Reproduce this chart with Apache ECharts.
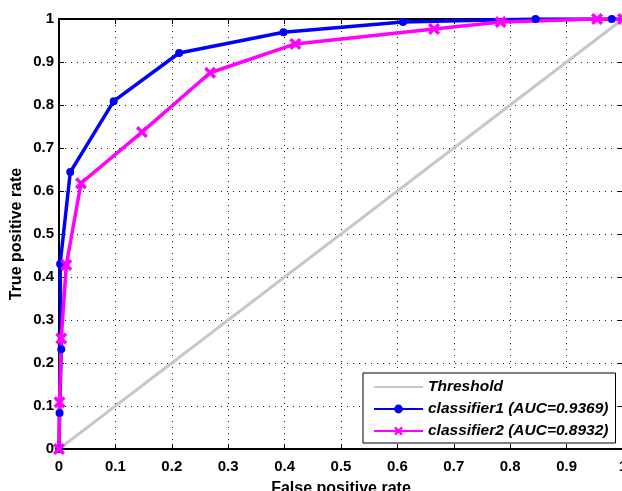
<!DOCTYPE html>
<html>
<head>
<meta charset="utf-8">
<script src="https://cdn.jsdelivr.net/npm/echarts@6/dist/echarts.min.js"></script>
<style>
  html, body { margin: 0; padding: 0; overflow: hidden; background: #fff; }
  #chart { width: 632px; height: 491px; }
</style>
</head>
<body>
<div id="chart"></div>
<script>
// ROC curves for two classifiers plus the chance diagonal
const thresholdX = [0, 1];
const thresholdY = [0, 1];

const fpr1 = [0, 0.001, 0.004, 0.002, 0.020, 0.097, 0.213, 0.398, 0.610, 0.845, 0.980, 1];
const tpr1 = [0, 0.084, 0.232, 0.430, 0.644, 0.809, 0.921, 0.969, 0.993, 1.000, 1.000, 1];

const fpr2 = [0, 0.001, 0.004, 0.013, 0.039, 0.147, 0.268, 0.419, 0.665, 0.783, 0.954, 1];
const tpr2 = [0, 0.109, 0.257, 0.428, 0.618, 0.737, 0.875, 0.942, 0.977, 0.993, 1.000, 1];

const tickLabels = ['0', '0.1', '0.2', '0.3', '0.4', '0.5', '0.6', '0.7', '0.8', '0.9', '1'];

const seriesNames = ['Threshold', 'classifier1 (AUC=0.9369)', 'classifier2 (AUC=0.8932)'];

const pairs = (xs, ys) => xs.map((x, i) => [x, ys[i]]);

const FONT = '"Liberation Sans", Arial, sans-serif';
const crossPath = 'path://M0,2 L2,0 L5,3 L8,0 L10,2 L7,5 L10,8 L8,10 L5,7 L2,10 L0,8 L3,5 Z';

const labelFmt = v => tickLabels[Math.round(v * 10)];

const titleText = { color: '#000', fontFamily: FONT, fontWeight: 'bold', fontSize: 16 };

const baseAxis = {
  type: 'value', min: 0, max: 1, interval: 0.1,
  axisLine: { show: true, onZero: false, lineStyle: { color: '#000', width: 2 } },
  axisTick: { show: true, inside: true, length: 5, lineStyle: { color: '#000', width: 1 } },
  splitLine: { show: true, lineStyle: { color: '#222', width: 1, type: [1, 5] } },
  axisLabel: { color: '#000', fontFamily: FONT, fontWeight: 'bold', fontSize: 15, formatter: labelFmt }
};

const chart = echarts.init(document.getElementById('chart'), null, { renderer: 'canvas' });
chart.setOption({
  animation: false,
  backgroundColor: '#fff',
  grid: { left: 59, top: 19, right: 9, bottom: 42, containLabel: false, outerBoundsMode: 'none' },
  xAxis: [
    Object.assign({}, baseAxis, {
      position: 'bottom',
      name: 'False positive rate', nameLocation: 'middle', nameGap: 32,
      nameTextStyle: titleText,
      axisLabel: Object.assign({}, baseAxis.axisLabel, { margin: 10 })
    }),
    Object.assign({}, baseAxis, {
      position: 'top', splitLine: { show: false }, axisLabel: { show: false }
    })
  ],
  yAxis: [
    Object.assign({}, baseAxis, {
      position: 'left',
      name: 'True positive rate', nameLocation: 'middle', nameGap: 34,
      nameMoveOverlap: false,
      nameTextStyle: titleText,
      axisLabel: Object.assign({}, baseAxis.axisLabel, { margin: 5 })
    }),
    Object.assign({}, baseAxis, {
      position: 'right', splitLine: { show: false }, axisLabel: { show: false }
    })
  ],
  legend: {
    orient: 'vertical',
    left: 363, top: 373,
    padding: [6, 7, 4, 10],
    itemWidth: 49, itemHeight: 11, itemGap: 6,
    backgroundColor: '#fff',
    borderColor: '#000', borderWidth: 1, borderRadius: 0,
    textStyle: { color: '#000', fontFamily: FONT, fontWeight: 'bold', fontStyle: 'italic', fontSize: 15.5 },
    data: [
      { name: seriesNames[0], itemStyle: { opacity: 0 } },
      { name: seriesNames[1] },
      { name: seriesNames[2] }
    ]
  },
  series: [
    {
      name: seriesNames[0], type: 'line', xAxisIndex: 0, yAxisIndex: 0,
      data: pairs(thresholdX, thresholdY),
      symbol: 'none', clip: true,
      lineStyle: { color: '#c8c8c8', width: 3 },
      itemStyle: { color: '#c8c8c8' }
    },
    {
      name: seriesNames[1], type: 'line', xAxisIndex: 0, yAxisIndex: 0,
      data: pairs(fpr1, tpr1),
      symbol: 'circle', symbolSize: 8, showAllSymbol: true, clip: true,
      lineStyle: { color: '#0000ff', width: 3.5 },
      itemStyle: { color: '#0000ff', borderWidth: 0 }
    },
    {
      name: seriesNames[2], type: 'line', xAxisIndex: 0, yAxisIndex: 0,
      data: pairs(fpr2, tpr2),
      symbol: crossPath, symbolSize: 12, showAllSymbol: true, clip: true,
      lineStyle: { color: '#ff00ff', width: 3.5 },
      itemStyle: { color: '#ff00ff', borderWidth: 0 }
    }
  ]
});
</script>
</body>
</html>
